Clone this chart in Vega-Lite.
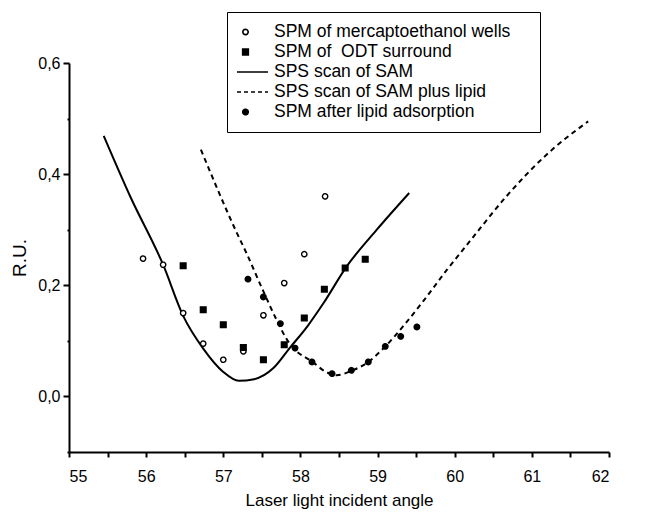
{
  "$schema": "https://vega.github.io/schema/vega-lite/v6.json",
  "width": 540,
  "height": 389,
  "autosize": {"type": "none"},
  "padding": {"left": 69, "top": 63, "right": 36, "bottom": 61},
  "background": "white",
  "config": {
    "view": {"stroke": null},
    "font": "Liberation Sans",
    "axis": {
      "grid": false,
      "domainColor": "black",
      "domainWidth": 2,
      "tickColor": "black",
      "tickWidth": 2,
      "labelColor": "black",
      "titleColor": "black",
      "labelFont": "Liberation Sans",
      "titleFont": "Liberation Sans",
      "labelFontSize": 16,
      "titleFontWeight": "normal"
    }
  },
  "datasets": {
    "curves": [
      {"series": "SPS scan of SAM", "x": 55.45, "y": 0.469},
      {"series": "SPS scan of SAM", "x": 55.8, "y": 0.358},
      {"series": "SPS scan of SAM", "x": 56.22, "y": 0.237},
      {"series": "SPS scan of SAM", "x": 56.48, "y": 0.145},
      {"series": "SPS scan of SAM", "x": 56.74, "y": 0.086},
      {"series": "SPS scan of SAM", "x": 57.0, "y": 0.044},
      {"series": "SPS scan of SAM", "x": 57.2, "y": 0.028},
      {"series": "SPS scan of SAM", "x": 57.4, "y": 0.031},
      {"series": "SPS scan of SAM", "x": 57.65, "y": 0.051},
      {"series": "SPS scan of SAM", "x": 57.86, "y": 0.087},
      {"series": "SPS scan of SAM", "x": 58.1, "y": 0.128},
      {"series": "SPS scan of SAM", "x": 58.3, "y": 0.168},
      {"series": "SPS scan of SAM", "x": 58.6, "y": 0.234},
      {"series": "SPS scan of SAM", "x": 58.99, "y": 0.3},
      {"series": "SPS scan of SAM", "x": 59.41, "y": 0.366},
      {"series": "SPS scan of SAM plus lipid", "x": 56.71, "y": 0.444},
      {"series": "SPS scan of SAM plus lipid", "x": 57.17, "y": 0.296},
      {"series": "SPS scan of SAM plus lipid", "x": 57.3, "y": 0.258},
      {"series": "SPS scan of SAM plus lipid", "x": 57.52, "y": 0.189},
      {"series": "SPS scan of SAM plus lipid", "x": 57.69, "y": 0.138},
      {"series": "SPS scan of SAM plus lipid", "x": 57.84, "y": 0.099},
      {"series": "SPS scan of SAM plus lipid", "x": 57.93, "y": 0.084},
      {"series": "SPS scan of SAM plus lipid", "x": 58.15, "y": 0.063},
      {"series": "SPS scan of SAM plus lipid", "x": 58.32, "y": 0.045},
      {"series": "SPS scan of SAM plus lipid", "x": 58.47, "y": 0.038},
      {"series": "SPS scan of SAM plus lipid", "x": 58.66, "y": 0.046},
      {"series": "SPS scan of SAM plus lipid", "x": 58.88, "y": 0.062},
      {"series": "SPS scan of SAM plus lipid", "x": 59.1, "y": 0.09},
      {"series": "SPS scan of SAM plus lipid", "x": 59.33, "y": 0.126},
      {"series": "SPS scan of SAM plus lipid", "x": 59.59, "y": 0.171},
      {"series": "SPS scan of SAM plus lipid", "x": 59.9, "y": 0.228},
      {"series": "SPS scan of SAM plus lipid", "x": 60.2, "y": 0.28},
      {"series": "SPS scan of SAM plus lipid", "x": 60.67, "y": 0.36},
      {"series": "SPS scan of SAM plus lipid", "x": 61.19, "y": 0.435},
      {"series": "SPS scan of SAM plus lipid", "x": 61.73, "y": 0.495}
    ],
    "points": [
      {"series": "SPM of mercaptoethanol wells", "x": 55.96, "y": 0.248},
      {"series": "SPM of mercaptoethanol wells", "x": 56.22, "y": 0.237},
      {"series": "SPM of mercaptoethanol wells", "x": 56.48, "y": 0.15},
      {"series": "SPM of mercaptoethanol wells", "x": 56.74, "y": 0.095},
      {"series": "SPM of mercaptoethanol wells", "x": 57.0, "y": 0.066},
      {"series": "SPM of mercaptoethanol wells", "x": 57.26, "y": 0.081},
      {"series": "SPM of mercaptoethanol wells", "x": 57.52, "y": 0.146},
      {"series": "SPM of mercaptoethanol wells", "x": 57.79, "y": 0.204},
      {"series": "SPM of mercaptoethanol wells", "x": 58.05, "y": 0.256},
      {"series": "SPM of mercaptoethanol wells", "x": 58.32, "y": 0.36},
      {"series": "SPM of \u00a0ODT surround", "x": 56.48, "y": 0.235},
      {"series": "SPM of \u00a0ODT surround", "x": 56.74, "y": 0.156},
      {"series": "SPM of \u00a0ODT surround", "x": 57.0, "y": 0.129},
      {"series": "SPM of \u00a0ODT surround", "x": 57.26, "y": 0.088},
      {"series": "SPM of \u00a0ODT surround", "x": 57.52, "y": 0.066},
      {"series": "SPM of \u00a0ODT surround", "x": 57.79, "y": 0.093},
      {"series": "SPM of \u00a0ODT surround", "x": 58.05, "y": 0.141},
      {"series": "SPM of \u00a0ODT surround", "x": 58.31, "y": 0.193},
      {"series": "SPM of \u00a0ODT surround", "x": 58.58, "y": 0.231},
      {"series": "SPM of \u00a0ODT surround", "x": 58.84, "y": 0.247},
      {"series": "SPM after lipid adsorption", "x": 57.32, "y": 0.211},
      {"series": "SPM after lipid adsorption", "x": 57.52, "y": 0.179},
      {"series": "SPM after lipid adsorption", "x": 57.74, "y": 0.131},
      {"series": "SPM after lipid adsorption", "x": 57.93, "y": 0.087},
      {"series": "SPM after lipid adsorption", "x": 58.15, "y": 0.062},
      {"series": "SPM after lipid adsorption", "x": 58.41, "y": 0.041},
      {"series": "SPM after lipid adsorption", "x": 58.66, "y": 0.047},
      {"series": "SPM after lipid adsorption", "x": 58.88, "y": 0.062},
      {"series": "SPM after lipid adsorption", "x": 59.1, "y": 0.09},
      {"series": "SPM after lipid adsorption", "x": 59.3, "y": 0.108},
      {"series": "SPM after lipid adsorption", "x": 59.51, "y": 0.125}
    ]
  },
  "encoding": {
    "x": {
      "field": "x",
      "type": "quantitative",
      "scale": {"domain": [55, 62], "nice": false, "zero": false},
      "axis": {
        "title": "Laser light incident angle",
        "titleFontSize": 17,
        "titlePadding": 8,
        "values": [55, 55.5, 56, 56.5, 57, 57.5, 58, 58.5, 59, 59.5, 60, 60.5, 61, 61.5, 62],
        "labelExpr": "datum.value % 1 === 0 ? format(datum.value, 'd') : ''",
        "tickSize": 5,
        "labelPadding": 11
      }
    },
    "y": {
      "field": "y",
      "type": "quantitative",
      "scale": {"domain": [-0.1, 0.6], "nice": false, "zero": false},
      "axis": {
        "title": "R.U.",
        "titleFontSize": 19,
        "titlePadding": 8,
        "values": [-0.1, 0, 0.1, 0.2, 0.3, 0.4, 0.5, 0.6],
        "labelExpr": "(datum.value > -0.05 && round(datum.value * 10) % 2 === 0) ? replace(format(datum.value, '.1f'), '.', ',') : ''",
        "tickSize": {"condition": {"test": "datum.value > -0.05 && round(datum.value * 10) % 2 === 0", "value": 6}, "value": 2},
        "labelPadding": 3
      }
    }
  },
  "layer": [
    {
      "data": {"name": "curves"},
      "transform": [{"filter": "datum.series === 'SPS scan of SAM'"}],
      "mark": {"type": "line", "color": "black", "strokeWidth": 2, "interpolate": "monotone"},
      "encoding": {}
    },
    {
      "data": {"name": "curves"},
      "transform": [{"filter": "datum.series === 'SPS scan of SAM plus lipid'"}],
      "mark": {"type": "line", "color": "black", "strokeWidth": 2, "strokeDash": [5, 4], "interpolate": "monotone"},
      "encoding": {}
    },
    {
      "data": {"name": "points"},
      "mark": {"type": "point", "filled": false, "stroke": "black", "strokeWidth": 1.4, "opacity": 1},
      "encoding": {
        "shape": {
          "field": "series",
          "type": "nominal",
          "scale": {
            "domain": ["SPM of mercaptoethanol wells", "SPM of \u00a0ODT surround", "SPS scan of SAM", "SPS scan of SAM plus lipid", "SPM after lipid adsorption"],
            "range": ["circle", "square", "stroke", "stroke", "circle"]
          },
          "legend": {
            "title": "\u00a0",
            "titleOrient": "right",
            "titleFontSize": 8,
            "titlePadding": 20,
            "orient": "none",
            "legendX": 158,
            "legendY": -51,
            "padding": 10,
            "strokeColor": "black",
            "fillColor": "white",
            "labelFont": "Liberation Sans",
            "labelFontSize": 17.5,
            "labelColor": "black",
            "clipHeight": 20,
            "rowPadding": 0,
            "symbolOffset": -15,
            "labelOffset": 5,
            "labelLimit": 400,
            "symbolStrokeColor": "black",
            "symbolStrokeWidth": 1.6
          }
        },
        "fill": {
          "field": "series",
          "type": "nominal",
          "scale": {
            "domain": ["SPM of mercaptoethanol wells", "SPM of \u00a0ODT surround", "SPS scan of SAM", "SPS scan of SAM plus lipid", "SPM after lipid adsorption"],
            "range": ["white", "black", "black", "black", "black"]
          }
        },
        "size": {
          "field": "series",
          "type": "nominal",
          "scale": {
            "type": "ordinal",
            "domain": ["SPM of mercaptoethanol wells", "SPM of \u00a0ODT surround", "SPS scan of SAM", "SPS scan of SAM plus lipid", "SPM after lipid adsorption"],
            "range": [28, 32, 2025, 2025, 30]
          }
        },
        "strokeDash": {
          "field": "series",
          "type": "nominal",
          "scale": {
            "domain": ["SPM of mercaptoethanol wells", "SPM of \u00a0ODT surround", "SPS scan of SAM", "SPS scan of SAM plus lipid", "SPM after lipid adsorption"],
            "range": [[1, 0], [1, 0], [1, 0], [4, 3], [1, 0]]
          }
        }
      }
    }
  ]
}
